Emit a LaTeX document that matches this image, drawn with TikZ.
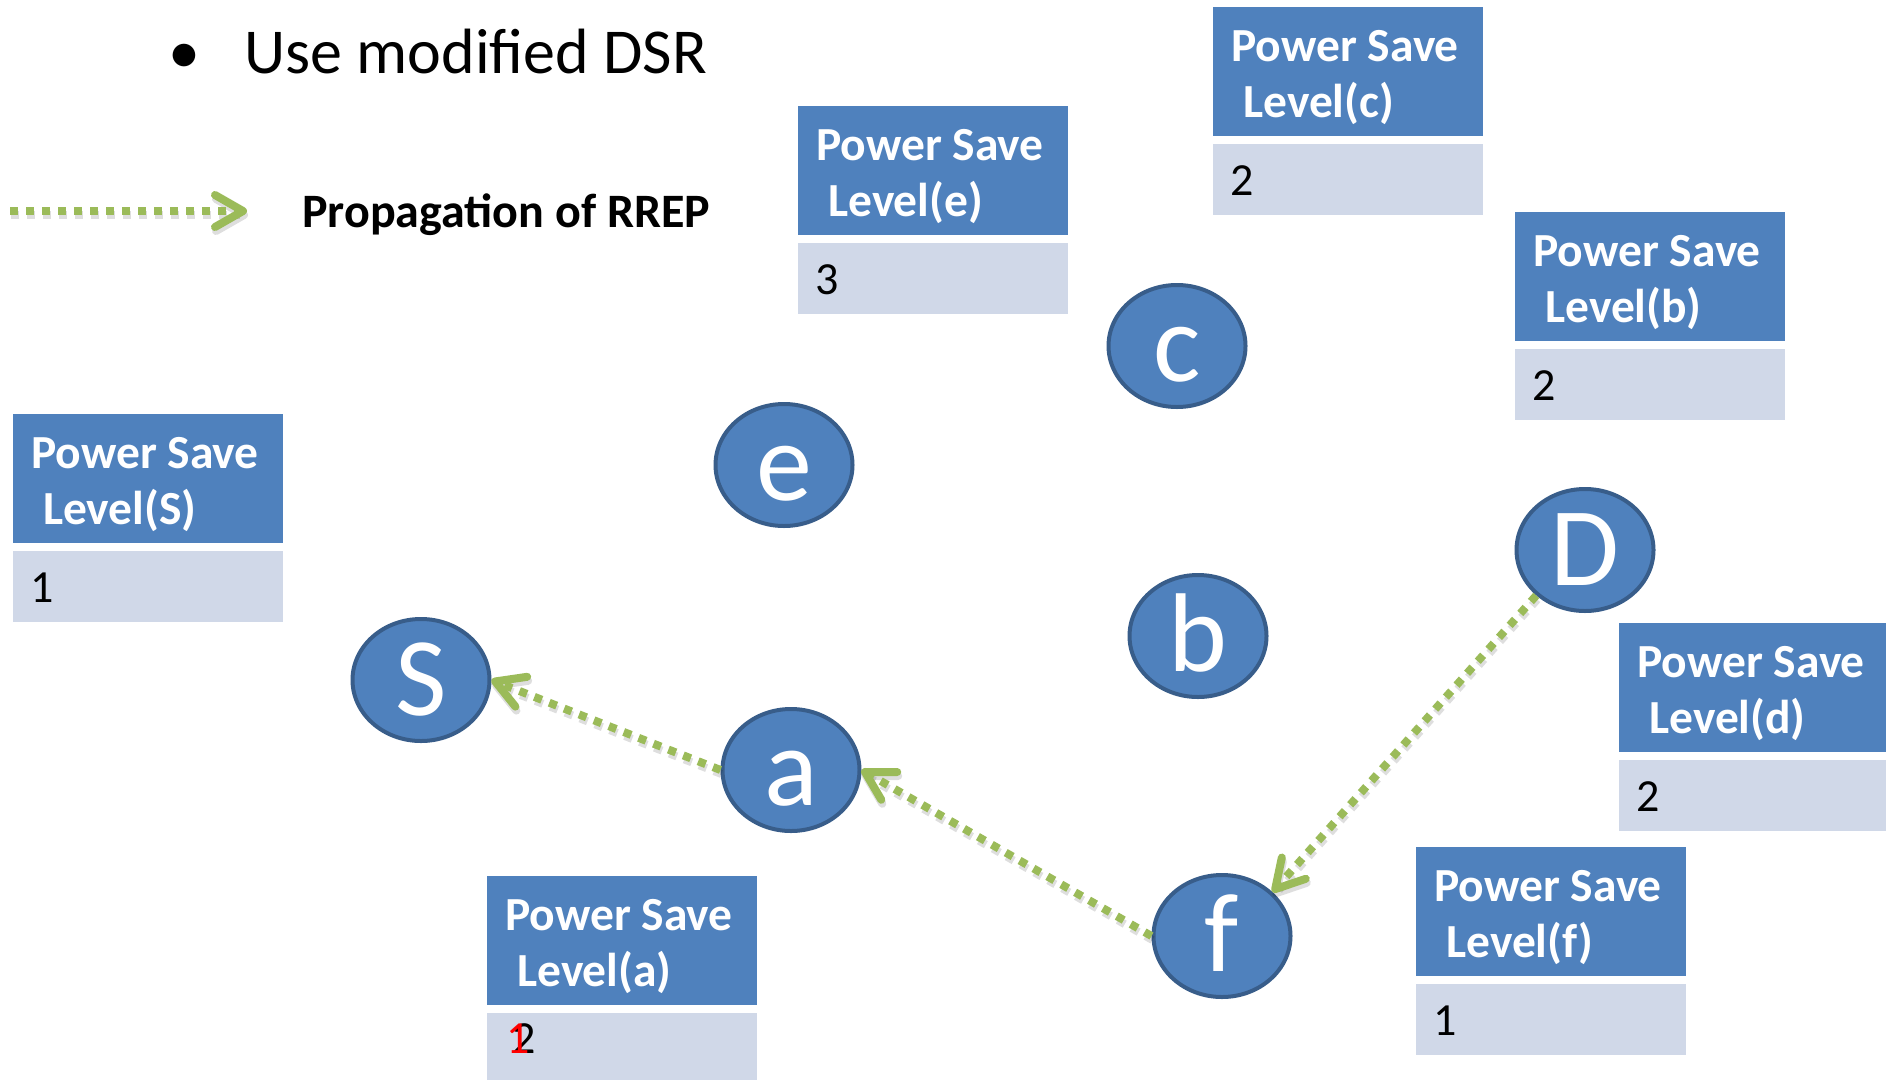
\documentclass[tikz,border=0pt]{standalone}
\usepackage{fontspec}
\setmainfont{Carlito}
\usetikzlibrary{shapes.geometric,arrows.meta}

\definecolor{hdrblue}{HTML}{4F81BD}
\definecolor{cellgrey}{HTML}{D0D8E8}
\definecolor{rimblue}{HTML}{385D8A}
\definecolor{rrepgreen}{HTML}{9BBB59}

\tikzset{
  station/.style={ellipse, draw=rimblue, line width=4pt, fill=hdrblue,
    minimum width=137pt, minimum height=122pt, inner sep=0pt, text=white,
    font=\fontsize{112}{112}\selectfont, text height=71pt, text depth=0pt},
  hdrbox/.style={fill=hdrblue, draw=none, inner sep=0pt, anchor=north west,
    minimum width=270pt, minimum height=129pt},
  cellbox/.style={fill=cellgrey, draw=none, inner sep=0pt, anchor=north west,
    minimum width=270pt, minimum height=71pt},
  hdrtext/.style={inner sep=0pt, anchor=base west, text=white,
    font=\fontsize{47.5}{47.5}\selectfont\bfseries},
  celltext/.style={inner sep=0pt, anchor=base west, text=black,
    font=\fontsize{46}{46}\selectfont},
  rrep/.style={draw=rrepgreen, line width=8pt, dash pattern=on 8pt off 8pt,
    -{Straight Barb[length=28pt, width=32pt, line width=8pt, round]}},
  rrepshade/.style={draw=black, opacity=0.13, line width=8pt,
    dash pattern=on 8pt off 8pt,
    -{Straight Barb[length=28pt, width=32pt, line width=8pt, round]}},
}

% power-save table: #1 name, #2 left, #3 top, #4 node letter, #5 level value
\newcommand\pstable[5]{%
  \node[hdrbox] (#1-head) at (#2,#3) {};
  \node[cellbox] (#1-cell) at (#2,#3+137) {};
  \node[hdrtext] (#1-l1) at (#2+18,#3+54) {Power Save};
  \node[hdrtext] (#1-l2) at (#2+30,#3+110) {Level(#4)};
  \node[celltext] (#1-val) at (#2+17,#3+188) {#5};
}

\begin{document}
\begin{tikzpicture}[x=1pt,y=-1pt]
  \useasboundingbox[fill=white] (0,0) rectangle (1886,1079);

  % heading bullet
  \node[inner sep=0pt, anchor=base, font=\fontsize{64}{64}\selectfont] (bul) at (184,73) {•};
  \node[inner sep=0pt, anchor=base west, font=\fontsize{64}{64}\selectfont] (title) at (244,73) {Use modified DSR};

  % legend
  \coordinate (lgA) at (10,211);
  \coordinate (lgB) at (247,211);
  \draw[rrepshade] ([shift={(1,4)}]lgA) -- ([shift={(1,4)}]lgB);
  \draw[rrep] (lgA) -- (lgB);
  \node[inner sep=0pt, anchor=base west, font=\fontsize{48}{48}\selectfont\bfseries] (legend) at (302,227) {Propagation of RREP};

  % power-save tables
  \pstable{tS}{13}{414}{S}{1}
  \pstable{te}{798}{106}{e}{3}
  \pstable{tc}{1213}{7}{c}{2}
  \pstable{tb}{1515}{212}{b}{2}
  \pstable{td}{1619}{623}{d}{2}
  \pstable{tf}{1416}{847}{f}{1}
  \pstable{ta}{487}{876}{a}{}
  \node[celltext] (ta-old) at (512,1053) {2};
  \node[celltext, text=red] (ta-new) at (506,1053) {1};

  % stations
  \node[station] (S) at (421,680) {S};
  \node[station] (a) at (791,770) {a};
  \node[station] (e) at (784,465) {e};
  \node[station] (c) at (1177,346) {c};
  \node[station] (b) at (1198,636) {b};
  \node[station] (D) at (1585,550) {D};
  \node[station] (f) at (1222,936) {f};

  % route reply path D -> f -> a -> S
  \draw[rrepshade] ([shift={(1,4)}]D.223) -- ([shift={(1,4)}]f.41);
  \draw[rrepshade] ([shift={(1,4)}]f.west) -- ([shift={(1,4)}]a.east);
  \draw[rrepshade] ([shift={(1,4)}]a.west) -- ([shift={(1,4)}]S.east);
  \draw[rrep] (D.223) -- (f.41);
  \draw[rrep] (f.west) -- (a.east);
  \draw[rrep] (a.west) -- (S.east);
\end{tikzpicture}
\end{document}
